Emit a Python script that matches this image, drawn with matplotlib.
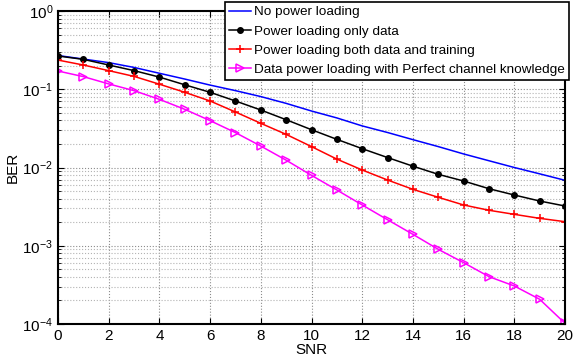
import matplotlib.pyplot as plt
import numpy as np
from matplotlib.ticker import LogLocator, MultipleLocator, NullFormatter

plt.rcParams["font.family"] = ["Liberation Sans", "DejaVu Sans"]

snr = np.arange(0, 21)

ber_no_loading = [0.27, 0.243, 0.219, 0.19, 0.160, 0.135, 0.113, 0.096, 0.0806, 0.066,
                  0.0527, 0.043, 0.034, 0.028, 0.0227, 0.0185, 0.0149, 0.0122, 0.010,
                  0.0083, 0.00686]
ber_data_only = [0.266, 0.241, 0.204, 0.173, 0.143, 0.114, 0.0914, 0.0708, 0.0543, 0.0408,
                 0.0304, 0.0229, 0.0174, 0.0134, 0.0104, 0.00818, 0.00672, 0.00536,
                 0.00445, 0.00373, 0.00322]
ber_data_training = [0.236, 0.204, 0.173, 0.146, 0.116, 0.0914, 0.0708, 0.0512, 0.0367,
                     0.0265, 0.0185, 0.0128, 0.00929, 0.00692, 0.00526, 0.00416, 0.00332,
                     0.00284, 0.00252, 0.00224, 0.00203]
ber_perfect_csi = [0.171, 0.145, 0.117, 0.0959, 0.0743, 0.0554, 0.0397, 0.0279, 0.0188,
                   0.0124, 0.00794, 0.00516, 0.00332, 0.00215, 0.00140, 0.000900, 0.000608,
                   0.000403, 0.000306, 0.000207, 0.000102]

labels = [
    "No power loading",
    "Power loading only data",
    "Power loading both data and training",
    "Data power loading with Perfect channel knowledge",
]

fig = plt.figure(figsize=(5.83, 3.6), dpi=100)
ax = fig.add_axes([58 / 583, 36 / 360, 507 / 583, 313 / 360])

ax.semilogy(snr, ber_no_loading, color="blue", lw=1.1, label=labels[0])
ax.semilogy(snr, ber_data_only, color="black", lw=1.1, marker="o", ms=4, label=labels[1])
ax.semilogy(snr, ber_data_training, color="red", lw=1.1, marker="+", ms=6, mew=1.1, label=labels[2])
ax.semilogy(snr, ber_perfect_csi, color="magenta", lw=1.1, marker=">", ms=6, mfc="none",
            mew=1.1, label=labels[3])

ax.set_xlim(0, 20)
ax.set_ylim(1e-4, 1)
ax.xaxis.set_major_locator(MultipleLocator(2))
ax.yaxis.set_major_locator(LogLocator(base=10, numticks=10))
ax.yaxis.set_minor_locator(LogLocator(base=10, subs=np.arange(2, 10), numticks=10))
ax.yaxis.set_minor_formatter(NullFormatter())

ax.grid(True, which="major", ls=":", color="0.55", lw=0.8)
ax.grid(True, which="minor", axis="y", ls=":", color="0.7", lw=0.8)
ax.tick_params(which="both", direction="in", top=True, right=True, labelsize=11)
ax.tick_params(which="major", length=4)
ax.tick_params(which="minor", length=2)
for sp in ax.spines.values():
    sp.set_linewidth(1.5)

ax.set_xlabel("SNR", fontsize=11, labelpad=0)
ax.set_ylabel("BER", fontsize=11, labelpad=2)

leg = ax.legend(loc="upper right", bbox_to_anchor=(569 / 583, 1 - 2 / 360),
                bbox_transform=fig.transFigure, fontsize=9.7, fancybox=False,
                framealpha=1, edgecolor="black", borderpad=0.3, labelspacing=0.5,
                handlelength=1.6, handletextpad=0.25, borderaxespad=0)
leg.get_frame().set_linewidth(1.2)

fig.savefig("out.png", dpi=100)
